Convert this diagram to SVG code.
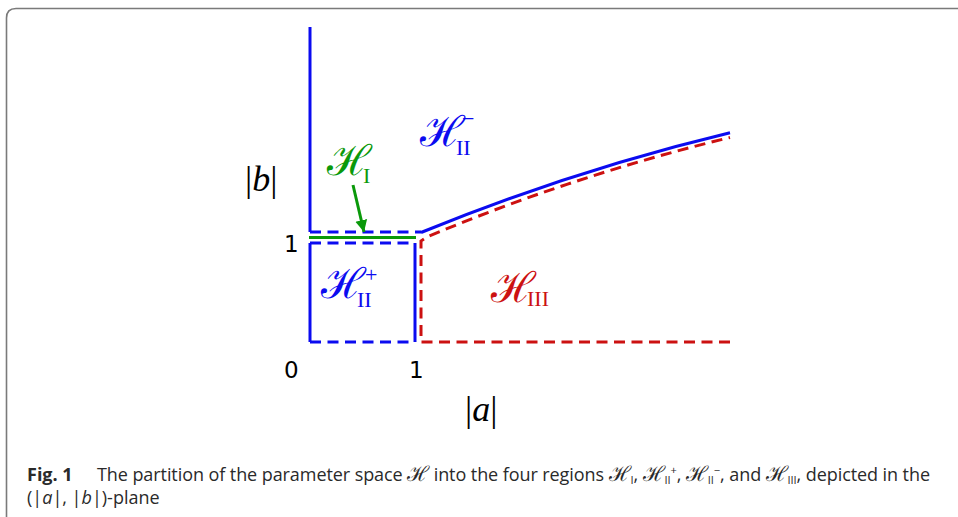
<svg xmlns="http://www.w3.org/2000/svg" width="958" height="517" viewBox="0 0 958 517">
<style>
.frame{fill:none;stroke:#7a7a7a;stroke-width:1.6}
.bl{stroke:#0b0bf0;stroke-width:3;fill:none}
.dash{stroke-dasharray:11 6.5}
.rd{stroke:#cc1111;stroke-width:3;fill:none;stroke-dasharray:11 6.5}
.gr{stroke:#0a990a;stroke-width:3;fill:none}
.cal{font-family:"DejaVu Serif","Liberation Serif",serif;font-style:normal}
.big{font-size:42px}
.rm{font-family:"Liberation Serif","DejaVu Serif",serif}
.tick{font-family:"DejaVu Sans","Liberation Sans",sans-serif;font-size:23px;fill:#000}
.cap{font-family:"Open Sans","Noto Sans",sans-serif;font-size:18px;fill:#2a2a2a}
</style>
<defs>
<marker id="ah" viewBox="0 0 10 10" refX="10" refY="5" markerWidth="4" markerHeight="6" orient="auto" markerUnits="strokeWidth">
<path d="M0,0 L10,5 L0,10 Z" fill="#0a990a"/>
</marker>
</defs>
<path class="frame" d="M6.5,517 V18 Q6.5,8.5 16,8.5 H958"/>
<g id="connectors">
<path class="bl" d="M310,27 V232"/>
<path class="bl dash" d="M310,232 H421"/>
<path class="bl" d="M421,232.5 Q574,170 730,132.7"/>
<path class="gr" d="M309,237.5 H416"/>
<path class="bl dash" d="M310,243 H415"/>
<path class="bl" d="M310,243 V342"/>
<path class="bl dash" d="M310,342 H415"/>
<path class="bl" d="M415,243 V342"/>
<path class="rd" d="M730,342 H421 V241 L428,236.5 Q575,175 730,137.5"/>
<path class="gr" d="M353,185 L364,232" stroke-width="2.5" marker-end="url(#ah)"/>
</g>
<g id="label-HIIminus" fill="#0b0bf0">
<text class="cal big" x="420" y="146">ℋ</text>
<text class="rm" x="456" y="155" font-size="22">II</text>
<text class="rm" x="462" y="126" font-size="22">−</text>
</g>
<g id="label-HI" fill="#0a990a">
<text class="cal big" x="327" y="175">ℋ</text>
<text class="rm" x="363" y="183" font-size="22">I</text>
</g>
<g id="label-HIIplus" fill="#0b0bf0">
<text class="cal big" x="321" y="298">ℋ</text>
<text class="rm" x="357" y="307" font-size="22">II</text>
<text class="rm" x="365" y="282" font-size="22">+</text>
</g>
<g id="label-HIII" fill="#cc1111">
<text class="cal big" x="491" y="302">ℋ</text>
<text class="rm" x="527" y="306" font-size="22">III</text>
</g>
<g id="axis-labels">
<text class="rm" x="245" y="191" font-size="36">|<tspan font-style="italic">b</tspan>|</text>
<text class="tick" x="284" y="252">1</text>
<text class="tick" x="284" y="378">0</text>
<text class="tick" x="409" y="378">1</text>
<text class="rm" x="465" y="421" font-size="36">|<tspan font-style="italic">a</tspan>|</text>
</g>
<g id="caption">
<text class="cap" x="27" y="481" font-weight="bold">Fig. 1</text>
<text class="cap" x="97" y="481" textLength="833" lengthAdjust="spacing">The partition of the parameter space <tspan class="cal" font-size="21">ℋ</tspan> into the four regions <tspan class="cal" font-size="21">ℋ</tspan><tspan font-size="11" dy="3">I</tspan><tspan dy="-3">, </tspan><tspan class="cal" font-size="21">ℋ</tspan><tspan font-size="11" dy="3">II</tspan><tspan font-size="11" dy="-10">+</tspan><tspan dy="7">, </tspan><tspan class="cal" font-size="21">ℋ</tspan><tspan font-size="11" dy="3">II</tspan><tspan font-size="11" dy="-10">−</tspan><tspan dy="7">, and </tspan><tspan class="cal" font-size="21">ℋ</tspan><tspan font-size="11" dy="3">III</tspan><tspan dy="-3">, depicted in the</tspan></text>
<text class="cap" x="27" y="504">(|<tspan font-style="italic">a</tspan>|, |<tspan font-style="italic">b</tspan>|)-plane</text>
</g>
</svg>
